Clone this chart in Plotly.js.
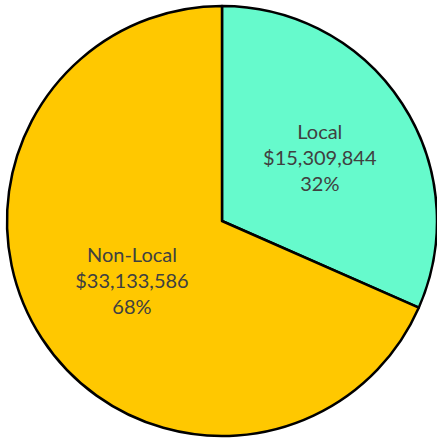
<!DOCTYPE html>
<html><head><meta charset="utf-8">
<script src="https://cdn.plot.ly/plotly-3.0.1.min.js"></script>
<style>html,body{margin:0;padding:0;background:#fff}</style>
</head><body>
<div id="chart" style="width:437px;height:440px"></div>
<script>
const labels = ["Local", "Non-Local"];
const values = [15309844, 33133586];
const colors = ["#66FACC", "#FFC800"];

Plotly.newPlot("chart", [{
  type: "pie",
  labels: labels,
  values: values,
  sort: false,
  direction: "clockwise",
  rotation: 0,
  marker: {colors: colors, line: {color: "#000", width: 2.5}},
  texttemplate: "%{label}<br>$%{value:,}<br>%{percent:.0%}",
  textposition: "inside",
  insidetextorientation: "horizontal",
  textfont: {family: "Lato, 'Open Sans', sans-serif", size: 20, color: "#404040"},
  hoverinfo: "none",
  showlegend: false
}], {
  width: 437, height: 440,
  margin: {l: 7, r: 0, t: 5, b: 3},
  paper_bgcolor: "#fff",
  showlegend: false
}, {displayModeBar: false, staticPlot: true});
</script>
</body></html>
